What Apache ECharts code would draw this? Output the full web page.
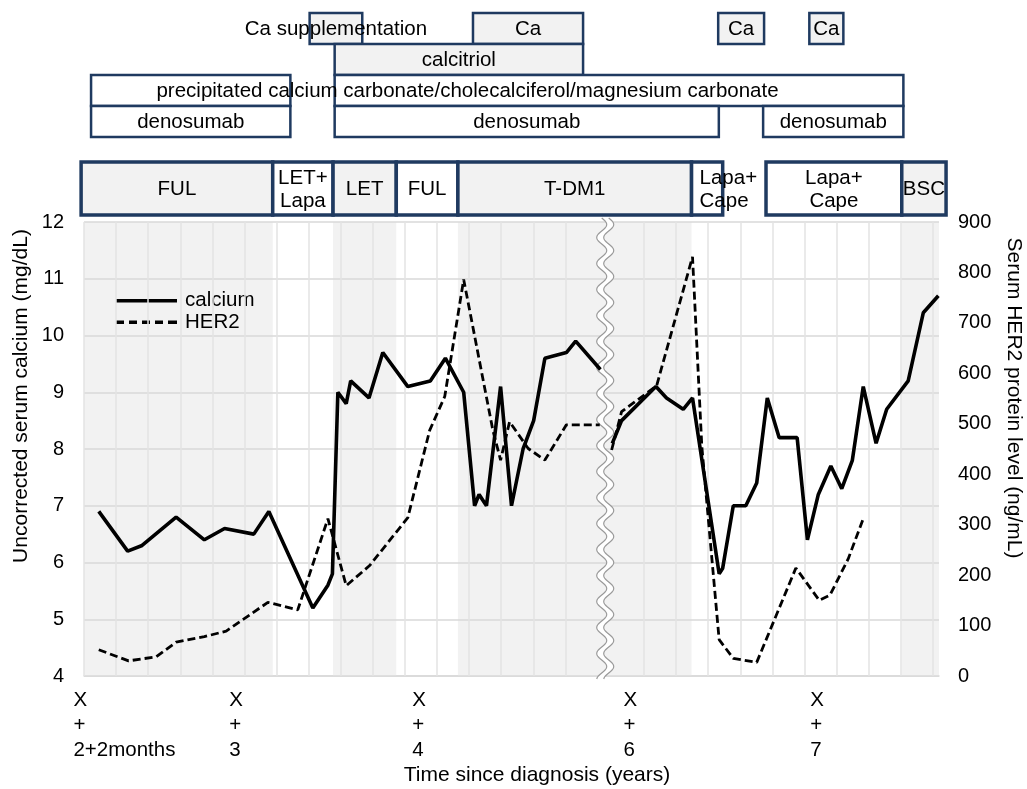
<!DOCTYPE html>
<html>
<head>
<meta charset="utf-8">
<title>Serum calcium and HER2</title>
<script src="https://cdn.jsdelivr.net/npm/echarts@6/dist/echarts.min.js"></script>
<style>
  html, body { margin: 0; padding: 0; background: #fff; }
  #chart { width: 1027px; height: 789px; }
</style>
</head>
<body>
<div id="chart"></div>
<script>
// x is measured in grid steps along the time axis (one vertical gridline per step)
const xMax = 26.64;
const breakAt = 16.24; // axis break between year 4 and year 6

const calciumX = [0.46, 1.36, 1.81, 2.87, 3.75, 4.38, 5.29, 5.76, 7.13, 7.60, 7.74, 7.91, 8.17, 8.31, 8.88, 9.31,
  10.09, 10.79, 11.26, 11.83, 12.17, 12.31, 12.54, 12.98, 13.32, 13.68, 14.01, 14.36, 15.03, 15.32, 16.09,
  16.46, 16.75, 17.82, 18.15, 18.67, 18.96, 19.79, 19.90, 20.23, 20.62, 20.96, 21.29, 21.66, 22.22, 22.54,
  22.88, 23.27, 23.61, 23.94, 24.28, 24.68, 25.01, 25.68, 26.15, 26.62];
const calciumY = [6.9, 6.2, 6.3, 6.8, 6.4, 6.6, 6.5, 6.9, 5.2, 5.6, 5.8, 9.0, 8.8, 9.2, 8.9, 9.7,
  9.1, 9.2, 9.6, 9.0, 7.0, 7.2, 7.0, 9.1, 7.0, 8.0, 8.5, 9.6, 9.7, 9.9, 9.4,
  8.1, 8.5, 9.1, 8.9, 8.7, 8.9, 5.8, 5.9, 7.0, 7.0, 7.4, 8.9, 8.2, 8.2, 6.4,
  7.2, 7.7, 7.3, 7.8, 9.1, 8.1, 8.7, 9.2, 10.4, 10.7];

const her2X = [0.46, 1.39, 1.81, 2.25, 2.87, 3.75, 4.43, 5.73, 6.66, 7.60, 8.17, 8.90, 10.09, 10.77, 11.24,
  11.83, 12.74, 12.98, 13.26, 13.84, 14.36, 15.03, 16.07,
  16.44, 16.75, 17.84, 18.96, 19.25, 19.79, 20.23, 20.96, 22.18, 22.91, 23.24, 23.81, 24.28];
const her2Y = [52, 30, 34, 38, 67, 78, 89, 146, 131, 312, 179, 219, 314, 487, 554,
  786, 487, 428, 504, 451, 428, 498, 498,
  448, 524, 575, 831, 455, 72, 35, 27, 214, 150, 160, 232, 312];

const yearTickPos = [1.26, 4.74, 10.44, 17.02, 22.84];
const yearTickLabels = ['2+2months', '3', '4', '6', '7'];

const treatmentNames = ['FUL', 'LET+\nLapa', 'LET', 'FUL', 'T-DM1', 'Lapa+\nCape', 'Lapa+\nCape', 'BSC'];
const treatmentStart = [-0.09, 5.88, 7.76, 9.73, 11.65, 18.93, 21.25, 25.48];
const treatmentEnd = [5.88, 7.76, 9.73, 11.65, 18.93, 19.90, 25.48, 26.86];
const treatmentShaded = [true, false, true, false, true, false, false, true];

const medRow = [0, 0, 0, 0, 1, 2, 2, 3, 3, 3];
const medStart = [7.03, 12.12, 19.76, 22.60, 7.81, 0.22, 7.81, 0.22, 7.81, 21.16];
const medEnd = [8.67, 15.55, 21.19, 23.66, 15.55, 6.43, 25.53, 6.43, 19.78, 25.53];
const medLabel = ['Ca supplementation', 'Ca', 'Ca', 'Ca', 'calcitriol', '', '', 'denosumab', 'denosumab', 'denosumab'];
const carbonateNote = { text: 'precipitated calcium carbonate/cholecalciferol/magnesium carbonate', at: 11.95, row: 2 };

const FONT = '"Liberation Sans", Arial, sans-serif';
const NAVY = '#1f3a60';
const SHADE = '#f2f2f2';
const ROW_H = 31;
const TREAT_TOP = 149, TREAT_BOTTOM = 202;

// legend swatches: a solid bar and a dashed bar
const SOLID_ICON = 'path://M0,0h61v3.4h-61z';
const DASHED_ICON = 'path://M0,0h8v3.4h-8z M13,0h8v3.4h-8z M26,0h8v3.4h-8z M39,0h8v3.4h-8z M52,0h9v3.4h-9z';

const measureCtx = document.createElement('canvas').getContext('2d');
function textWidth(str, font) {
  measureCtx.font = font;
  return Math.max.apply(null, str.split('\n').map(s => measureCtx.measureText(s).width));
}

function withBreak(xs, ys) {
  const out = [];
  xs.forEach((x, i) => {
    if (i > 0 && xs[i - 1] < breakAt && x > breakAt) out.push([breakAt, '-']);
    out.push([x, ys[i]]);
  });
  return out;
}

// vertical gridlines: whole steps before the break, shifted steps after it
const gridSteps = [];
for (let k = 0; k <= 15; k++) gridSteps.push(k);
for (let k = 0; k <= 9; k++) gridSteps.push(17.45 + k);

const shadedBands = treatmentNames
  .map((n, i) => i)
  .filter(i => treatmentShaded[i])
  .map(i => [{ xAxis: treatmentStart[i] }, { xAxis: treatmentEnd[i] }]);

function renderMed(params, api) {
  const r = api.value(2), i = api.value(3);
  const p0 = api.coord([api.value(0), r * ROW_H]);
  const p1 = api.coord([api.value(1), (r + 1) * ROW_H]);
  const children = [{
    type: 'rect',
    shape: { x: p0[0], y: p0[1], width: p1[0] - p0[0], height: p1[1] - p0[1] },
    style: { fill: r < 2 ? SHADE : '#fff', stroke: NAVY, lineWidth: 2.5 }
  }];
  if (medLabel[i]) {
    children.push({
      type: 'text',
      style: { text: medLabel[i], x: (p0[0] + p1[0]) / 2, y: (p0[1] + p1[1]) / 2 + 1,
        align: 'center', verticalAlign: 'middle', font: '20.5px ' + FONT, fill: '#000' }
    });
  }
  return { type: 'group', children: children };
}

function renderNote(params, api) {
  const p = api.coord([api.value(0), (api.value(1) + 0.5) * ROW_H]);
  return {
    type: 'text',
    style: { text: carbonateNote.text, x: p[0], y: p[1] + 1, align: 'center', verticalAlign: 'middle',
      font: '20.5px ' + FONT, fill: '#000' }
  };
}

function renderTreatment(params, api) {
  const i = api.value(2);
  const p0 = api.coord([api.value(0), TREAT_TOP]);
  const p1 = api.coord([api.value(1), TREAT_BOTTOM]);
  const font = '20.5px ' + FONT;
  const w = p1[0] - p0[0];
  const overflow = textWidth(treatmentNames[i], font) > w + 8;
  return {
    type: 'group',
    children: [{
      type: 'rect',
      shape: { x: p0[0], y: p0[1], width: w, height: p1[1] - p0[1] },
      style: { fill: treatmentShaded[i] ? SHADE : '#fff', stroke: NAVY, lineWidth: 3.5 }
    }, {
      type: 'text',
      style: { text: treatmentNames[i], x: overflow ? p0[0] + 8 : (p0[0] + p1[0]) / 2,
        y: (p0[1] + p1[1]) / 2 + 1, align: overflow ? 'left' : 'center', verticalAlign: 'middle',
        lineHeight: 23, font: font, fill: '#000' }
    }]
  };
}

function renderBreak(params, api) {
  const cs = params.coordSys;
  const xc = api.coord([api.value(0), 4])[0];
  const top = cs.y - 4, bottom = cs.y + cs.height + 3;
  const left = [], right = [];
  for (let y = top; y <= bottom; y += 1) {
    const xl = xc - 3.5 + 5 * Math.sin((y - top) / 26 * 2 * Math.PI);
    left.push([xl, y]);
    right.push([xl + 7, y]);
  }
  return {
    type: 'group',
    children: [
      { type: 'polygon', shape: { points: left.concat(right.slice().reverse()) }, style: { fill: '#fff' } },
      { type: 'polyline', shape: { points: left }, style: { stroke: '#9a9a9a', lineWidth: 1.2, fill: null } },
      { type: 'polyline', shape: { points: right }, style: { stroke: '#9a9a9a', lineWidth: 1.2, fill: null } }
    ]
  };
}

let chart = echarts.init(document.getElementById('chart'));
let option = {
  animation: false,
  backgroundColor: '#fff',
  textStyle: { fontFamily: FONT },
  grid: [
    { left: 84, right: 88, top: 222, bottom: 113 },
    { left: 84, right: 88, top: 13, height: 202 }
  ],
  legend: {
    data: [
      { name: 'calcium', icon: SOLID_ICON },
      { name: 'HER2', icon: DASHED_ICON }
    ],
    orient: 'vertical',
    left: 111,
    top: 285,
    itemWidth: 61,
    itemHeight: 3.4,
    itemGap: 0,
    itemStyle: { color: '#000' },
    textStyle: { fontSize: 20.5, lineHeight: 21.5, color: '#000', fontFamily: FONT, padding: [0, 0, 0, 3] }
  },
  xAxis: [{
    type: 'value',
    gridIndex: 0,
    min: 0,
    max: xMax,
    axisLine: { show: true, lineStyle: { color: '#d9d9d9', width: 1.5 } },
    axisTick: { show: false },
    splitLine: { show: false },
    axisLabel: {
      customValues: yearTickPos,
      margin: 12,
      formatter: function (v) {
        let idx = 0;
        yearTickPos.forEach((p, i) => { if (Math.abs(p - v) < Math.abs(yearTickPos[idx] - v)) idx = i; });
        return '{a|X}\n{a|+}\n{a|' + yearTickLabels[idx] + '}';
      },
      rich: { a: { align: 'left', fontSize: 20.5, lineHeight: 25, color: '#000', fontFamily: FONT } }
    }
  }, {
    type: 'value', gridIndex: 1, min: 0, max: xMax, show: false
  }],
  yAxis: [{
    type: 'value',
    gridIndex: 0,
    min: 4,
    max: 12,
    interval: 1,
    z: 2,
    axisLine: { show: false },
    axisTick: { show: false },
    axisLabel: { fontSize: 20, color: '#000', margin: 20, fontFamily: FONT },
    splitLine: { show: true, lineStyle: { color: '#d9d9d9', width: 1.5 } }
  }, {
    type: 'value',
    gridIndex: 0,
    position: 'right',
    min: 0,
    max: 900,
    interval: 100,
    axisLine: { show: false },
    axisTick: { show: false },
    axisLabel: { fontSize: 20, color: '#000', margin: 19, fontFamily: FONT },
    splitLine: { show: false }
  }, {
    type: 'value', gridIndex: 1, min: 0, max: 202, inverse: true, show: false
  }],
  graphic: [
    { type: 'text', x: 21, y: 396, rotation: Math.PI / 2,
      style: { text: 'Uncorrected serum calcium (mg/dL)', font: '21px ' + FONT, fill: '#000', align: 'center', verticalAlign: 'middle' } },
    { type: 'text', x: 1014, y: 398, rotation: -Math.PI / 2,
      style: { text: 'Serum HER2 protein level (ng/mL)', font: '21px ' + FONT, fill: '#000', align: 'center', verticalAlign: 'middle' } },
    { type: 'text', x: 537, y: 775,
      style: { text: 'Time since diagnosis (years)', font: '21px ' + FONT, fill: '#000', align: 'center', verticalAlign: 'middle' } }
  ],
  series: [{
    name: 'bands',
    type: 'line',
    xAxisIndex: 0,
    yAxisIndex: 0,
    data: [],
    z: 1,
    silent: true,
    markArea: { silent: true, itemStyle: { color: SHADE }, data: shadedBands }
  }, {
    name: 'vgrid',
    type: 'line',
    xAxisIndex: 0,
    yAxisIndex: 0,
    data: [],
    z: 2,
    silent: true,
    markLine: {
      silent: true,
      symbol: ['none', 'none'],
      label: { show: false },
      lineStyle: { color: '#e3e3e3', width: 1.5, type: 'solid' },
      data: gridSteps.map(v => ({ xAxis: v }))
    }
  }, {
    name: 'break',
    type: 'custom',
    xAxisIndex: 0,
    yAxisIndex: 0,
    z: 3,
    silent: true,
    clip: false,
    data: [[breakAt, 4]],
    renderItem: renderBreak
  }, {
    name: 'HER2',
    type: 'line',
    xAxisIndex: 0,
    yAxisIndex: 1,
    z: 5,
    symbol: 'none',
    showSymbol: false,
    connectNulls: false,
    lineStyle: { color: '#000', width: 2.8, type: [8, 4] },
    itemStyle: { color: '#000' },
    data: withBreak(her2X, her2Y)
  }, {
    name: 'calcium',
    type: 'line',
    xAxisIndex: 0,
    yAxisIndex: 0,
    z: 6,
    symbol: 'none',
    showSymbol: false,
    connectNulls: false,
    lineStyle: { color: '#000', width: 3.6 },
    itemStyle: { color: '#000' },
    data: withBreak(calciumX, calciumY)
  }, {
    name: 'medication',
    type: 'custom',
    xAxisIndex: 1,
    yAxisIndex: 2,
    silent: true,
    clip: false,
    data: medStart.map((s, i) => [s, medEnd[i], medRow[i], i]),
    renderItem: renderMed
  }, {
    name: 'note',
    type: 'custom',
    xAxisIndex: 1,
    yAxisIndex: 2,
    silent: true,
    clip: false,
    z: 4,
    data: [[carbonateNote.at, carbonateNote.row]],
    renderItem: renderNote
  }, {
    name: 'treatment',
    type: 'custom',
    xAxisIndex: 1,
    yAxisIndex: 2,
    silent: true,
    clip: false,
    data: treatmentStart.map((s, i) => [s, treatmentEnd[i], i]),
    renderItem: renderTreatment
  }]
};

chart.setOption(option);
window.addEventListener('resize', function () {
  chart.resize();
});
</script>
</body>
</html>
